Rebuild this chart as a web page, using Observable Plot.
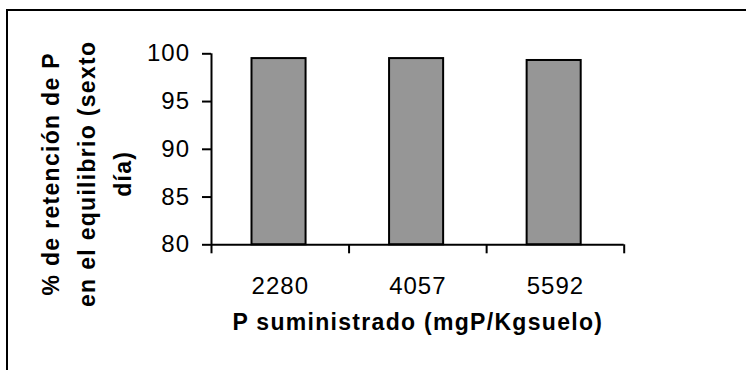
<!DOCTYPE html>
<html>
<head>
<meta charset="utf-8">
<script src="https://cdn.jsdelivr.net/npm/d3@7"></script>
<script src="https://cdn.jsdelivr.net/npm/@observablehq/plot@0.6"></script>
<style>
  html, body { margin: 0; padding: 0; background: #fff; overflow: hidden; }
  #wrap { position: relative; width: 746px; height: 370px; overflow: hidden; background: #fff; }
  #wrap svg { position: absolute; left: 0; top: 0; }
  #border { position: absolute; left: 6px; top: 9px; width: 900px; height: 500px;
            border-top: 2.5px solid #000; border-left: 2.5px solid #000; pointer-events: none; }
  svg g[aria-label="text"] text { letter-spacing: 1.3px; }
  svg g[aria-label$="tick label"] text { letter-spacing: 1px; }
</style>
</head>
<body>
<div id="wrap"></div>
<script>
const categories = ["2280", "4057", "5592"];
const retention = [99.5, 99.5, 99.3];
const yTicks = [80, 85, 90, 95, 100];
const yTitleLines = ["% de retención de P", "en el equilibrio (sexto", "día)"];
const xTitle = "P suministrado (mgP/Kgsuelo)";

const table = categories.map((c, i) => ({cat: c, i, value: retention[i]}));
const boundaries = d3.range(categories.length + 1);
const centers = categories.map((c, i) => i + 0.5);

const font = "'Liberation Sans', Arial, Helvetica, sans-serif";

const chart = Plot.plot({
  width: 746,
  height: 370,
  marginLeft: 211,
  marginRight: 122.3,
  marginTop: 53.3,
  marginBottom: 125.7,
  style: {fontFamily: font, fontSize: "24px", color: "#000", background: "transparent", overflow: "visible"},
  x: {domain: [0, categories.length], axis: null},
  y: {domain: [yTicks[0], yTicks[yTicks.length - 1]], axis: null},
  marks: [
    Plot.rectY(table, {
      x1: d => d.i, x2: d => d.i + 1,
      y1: () => yTicks[0], y2: "value",
      fill: "#969696", stroke: "#000", strokeWidth: 2,
      insetLeft: 40.5, insetRight: 43
    }),
    Plot.ruleX([0], {stroke: "#000", strokeWidth: 2}),
    Plot.ruleY([yTicks[0]], {stroke: "#000", strokeWidth: 2}),
    Plot.axisY({ticks: yTicks, tickSize: 9, tickPadding: 12.5, strokeWidth: 2, stroke: "#000", fill: "#000", fontSize: 24, label: null, tickFormat: d => String(d)}),
    Plot.axisX({ticks: boundaries, tickSize: 9, strokeWidth: 2, stroke: "#000", label: null, tickFormat: () => ""}),
    Plot.axisX({ticks: centers, tickSize: 0, tickPadding: 32, fill: "#000", fontSize: 24, label: null, tickFormat: d => categories[Math.floor(d)]}),
    Plot.text([yTitleLines.join("\n")], {
      text: d => d, frameAnchor: "left", rotate: -90,
      dx: -128.4, dy: 24.5, textAnchor: "middle", lineAnchor: "middle",
      lineHeight: 1.565, fontSize: 23, fontWeight: "bold", fill: "#000"
    }),
    Plot.text([xTitle], {
      text: d => d, frameAnchor: "bottom", dy: 78,
      textAnchor: "middle", lineAnchor: "middle",
      fontSize: 23, fontWeight: "bold", fill: "#000"
    })
  ]
});

const wrap = document.getElementById("wrap");
wrap.appendChild(chart);
const border = document.createElement("div");
border.id = "border";
wrap.appendChild(border);
</script>
</body>
</html>
